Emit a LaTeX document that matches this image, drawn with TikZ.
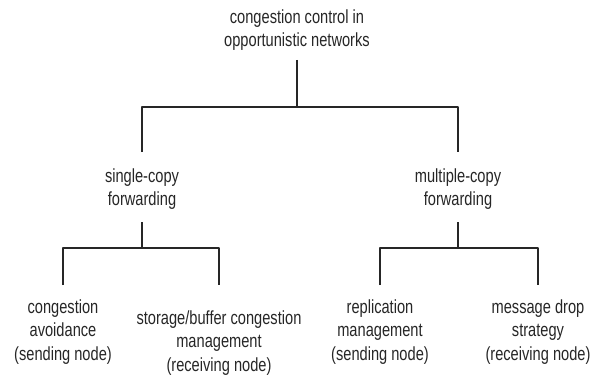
\documentclass[tikz,border=0pt]{standalone}
\usepackage{fontspec}
\setmainfont[FakeStretch=0.77]{Liberation Sans}
\usetikzlibrary{positioning}

\begin{document}
\begin{tikzpicture}[x=1pt, y=-1pt, line join=round,
    lbl/.style={align=center, inner sep=0pt, text=black!85, font=\fontsize{19}{23.5}\selectfont},
    link/.style={draw=black!85, line width=1.4pt}]
  \useasboundingbox (0,0) rectangle (594,385);
  \node[lbl] (root) at (297,30) {congestion control in\\opportunistic networks};
  \node[lbl] (single) at (142,189) {single-copy\\forwarding};
  \node[lbl] (multi) at (458,189) {multiple-copy\\forwarding};
  \node[lbl] (avoid) at (63,332) {congestion\\avoidance\\(sending node)};
  \node[lbl] (buffer) at (219,343) {storage/buffer congestion\\management\\(receiving node)};
  \node[lbl] (repl) at (380,332) {replication\\management\\(sending node)};
  \node[lbl] (drop) at (538,332) {message drop\\strategy\\(receiving node)};
  \foreach \up/\st/\bus/\low/\lt/\rt in {root/60/107/152/single/multi,
      single/222/248/285/avoid/buffer, multi/222/248/285/repl/drop}{
    \draw[link] (\up |- 0,\st) -- (\up |- 0,\bus);
    \draw[link] (\lt |- 0,\low) |- (\rt |- 0,\bus) -- (\rt |- 0,\low);
  }
\end{tikzpicture}
\end{document}
